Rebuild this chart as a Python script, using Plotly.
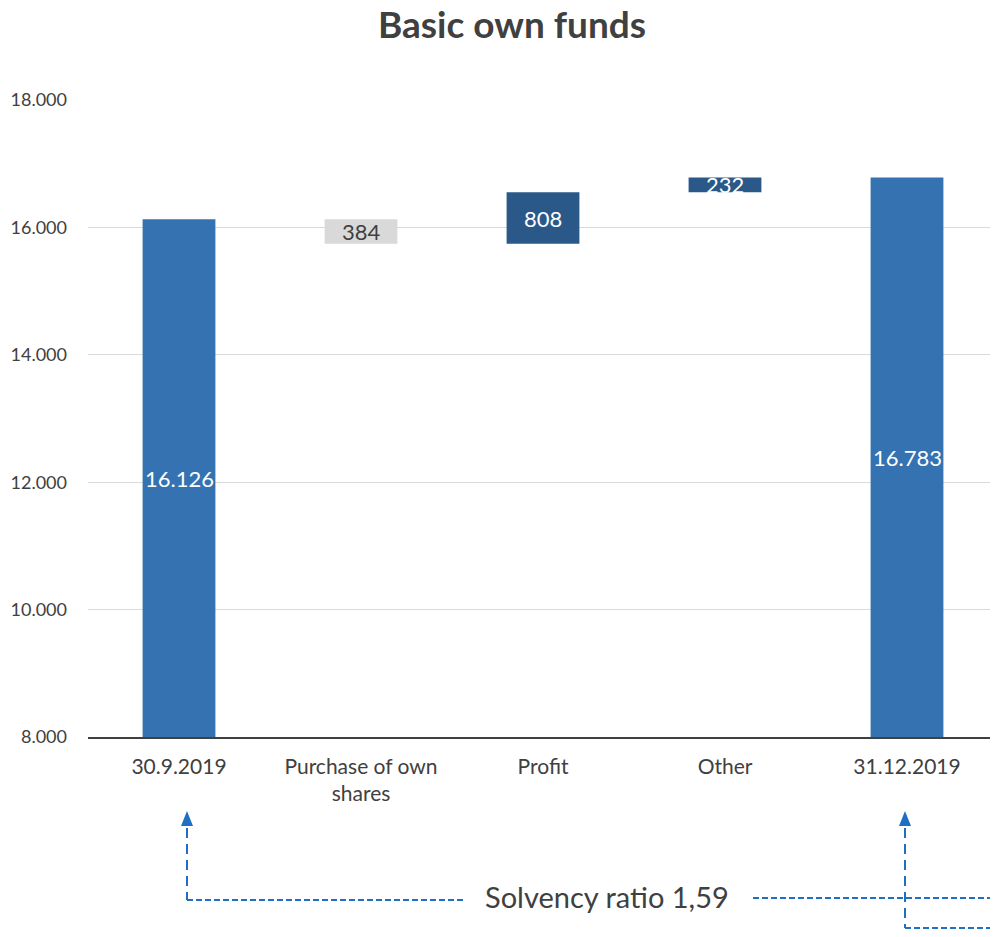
import plotly.graph_objects as go

categories = ["30.9.2019", "Purchase of own<br>shares", "Profit", "Other", "31.12.2019"]
values = [16126, -384, 808, 232, 16783]
measures = ["absolute", "relative", "relative", "relative", "total"]
label_texts = ["16.126", "384", "808", "232", "16.783"]
label_colors = ["white", "#404040", "white", "white", "white"]
y_min, y_max = 8000, 18000

OFF = 8  # page body margin
W, H = 990, 929
ML, MR, MT, MB = 80, 0, 92, 200
PW, PH = W - ML - MR, H - MT - MB

def px(x):
    return (x - OFF - ML) / PW

def py(y):
    return (H - MB - (y - OFF)) / PH

fig = go.Figure(go.Waterfall(
    x=categories, y=values, measure=measures,
    width=0.4,
    increasing=dict(marker=dict(color="#2A5889")),
    decreasing=dict(marker=dict(color="#D9D9D9")),
    totals=dict(marker=dict(color="#3572B1")),
    connector=dict(visible=False),
    textposition="none",
    hoverinfo="skip",
))

cum = 0
for cat, v, m, t, c in zip(categories, values, measures, label_texts, label_colors):
    if m == "absolute":
        lo, hi = y_min, v
        cum = v
    elif m == "total":
        lo, hi = y_min, cum
    else:
        lo, hi = cum, cum + v
        cum = cum + v
    fig.add_annotation(x=cat, y=(lo + hi) / 2, text=t, showarrow=False,
                       font=dict(size=22, color=c, family="Lato"))

dash_h = "6px,3px"
dash_v = "10px,6px"
blue = "#1F6FC2"
lines = [
    (187, 828, 187, 900, dash_v),
    (187, 900, 465, 900, dash_h),
    (753, 898, 998, 898, dash_h),
    (905, 828, 905, 928, dash_v),
    (905, 928, 998, 928, dash_h),
]
for x0, y0, x1, y1, d in lines:
    fig.add_shape(type="line", xref="paper", yref="paper",
                  x0=px(x0), y0=py(y0), x1=px(x1), y1=py(y1),
                  line=dict(color=blue, width=2, dash=d))
for tx, ty in [(187, 811), (905, 811)]:
    path = (f"M {px(tx)} {py(ty)} L {px(tx-6)} {py(ty+15)} "
            f"L {px(tx+6)} {py(ty+15)} Z")
    fig.add_shape(type="path", xref="paper", yref="paper", path=path,
                  fillcolor=blue, line=dict(color=blue, width=0))

fig.add_annotation(xref="paper", yref="paper", x=px(607), y=py(897),
                   xanchor="center", yanchor="middle",
                   text="Solvency ratio 1,59", showarrow=False,
                   font=dict(size=29, color="#404040", family="Lato"))

fig.update_layout(
    width=W, height=H,
    margin=dict(l=ML, r=MR, t=MT, b=MB),
    plot_bgcolor="white", paper_bgcolor="white",
    separators=",.",
    showlegend=False,
    font=dict(family="Lato", color="#404040"),
    title=dict(text="<b>Basic own funds</b>", x=(512 - OFF) / W, xref="container",
               xanchor="center", y=1 - (25 - OFF) / H, yanchor="middle",
               font=dict(size=37, color="#404040", family="Lato")),
    xaxis=dict(showline=True, linecolor="#404040", linewidth=1.5,
               tickfont=dict(size=21, color="#404040"), ticks="",
               ticklabelstandoff=10),
    yaxis=dict(range=[y_min, y_max], dtick=2000, tickformat=",",
               gridcolor="#D9D9D9", gridwidth=1, zeroline=False,
               tickfont=dict(size=18, color="#404040"),
               ticklabelstandoff=20),
)

fig.write_html("out.html")
